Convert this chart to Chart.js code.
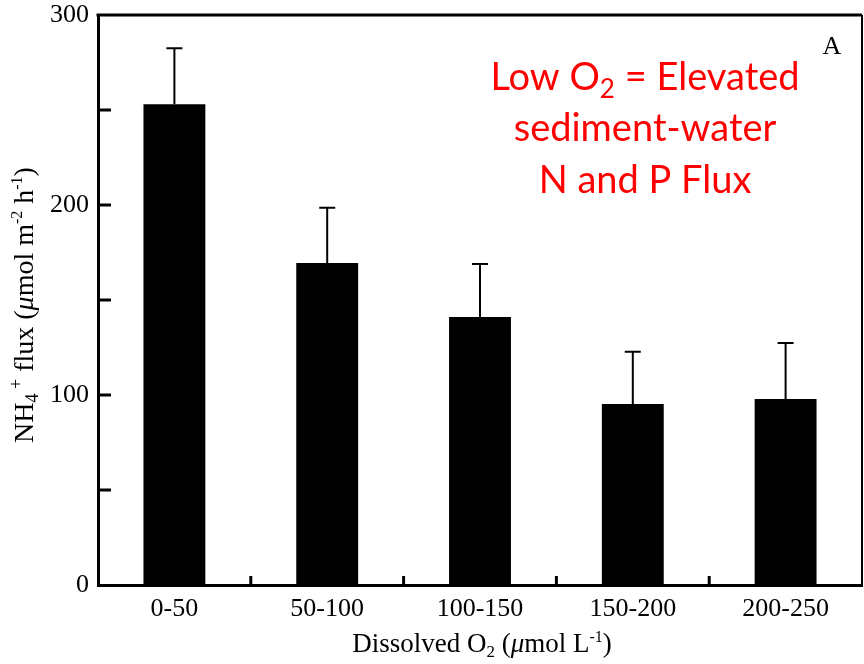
<!DOCTYPE html>
<html>
<head>
<meta charset="utf-8">
<script src="https://cdn.jsdelivr.net/npm/chart.js@4.4.0/dist/chart.umd.min.js"></script>
<style>
  html, body { margin: 0; padding: 0; background: #fff; }
  #wrap { width: 864px; height: 664px; }
</style>
</head>
<body>
<div id="wrap"><canvas id="barchart"></canvas></div>
<script>
// data
const categories = ['0-50', '50-100', '100-150', '150-200', '200-250'];
const fluxValues = [253, 169.5, 141, 95.3, 97.9];
const fluxErrors = [29.5, 29, 28, 27.5, 29.5];
const yTickLabels = [0, 100, 200, 300];
const noteLines = ['Low O', 'sediment-water', 'N and P Flux'];

const serif = "'Liberation Serif', 'DejaVu Serif', serif";

// pieces of the axis titles: text, size, shift (up is negative), italic
const xTitleRuns = [
    ['Dissolved O', 27, 0], ['2', 17, 5], [' (', 27, 0], ['\u03bc', 27, 0, true],
    ['mol L', 27, 0], ['-1', 16, -10], [')', 27, 0]
];
const yTitleRuns = [
    ['NH', 28, 0], ['4', 18, 5], [' +', 18, -11], [' flux (', 28, 0], ['\u03bc', 28, 0, true],
    ['mol m', 28, 0], ['-2', 16, -11], [' h', 28, 0], ['-1', 16, -11], [')', 28, 0]
];

function runFont(r) {
    return (r[3] ? 'italic ' : '') + r[1] + 'px ' + serif;
}

function drawRuns(ctx, runs, cx, cy) {
    let total = 0;
    runs.forEach((r) => { ctx.font = runFont(r); total += ctx.measureText(r[0]).width; });
    let pos = cx - total / 2;
    ctx.textAlign = 'left';
    ctx.textBaseline = 'alphabetic';
    runs.forEach((r) => {
        ctx.font = runFont(r);
        ctx.fillText(r[0], pos, cy + r[2]);
        pos += ctx.measureText(r[0]).width;
    });
}

// error bars, inner tick marks, frame, titles and the red note
const extras = {
    id: 'extras',
    afterDatasetsDraw(chart) {
        const ctx = chart.ctx;
        const x = chart.scales.x;
        const y = chart.scales.y;
        const area = chart.chartArea;
        ctx.save();

        // error bars (upper only)
        ctx.strokeStyle = '#000';
        ctx.lineWidth = 2;
        fluxValues.forEach((v, i) => {
            const px = x.getPixelForValue(i);
            const top = y.getPixelForValue(v + fluxErrors[i]);
            const base = y.getPixelForValue(v);
            ctx.beginPath();
            ctx.moveTo(px, base);
            ctx.lineTo(px, top);
            ctx.moveTo(px - 8, top);
            ctx.lineTo(px + 8, top);
            ctx.stroke();
        });

        // y tick marks pointing inward
        ctx.lineWidth = 3;
        y.ticks.forEach((t) => {
            if (t.value == 0 || t.value == 300) return;
            const py = y.getPixelForValue(t.value);
            ctx.beginPath();
            ctx.moveTo(area.left, py);
            ctx.lineTo(area.left + 13, py);
            ctx.stroke();
        });

        // x tick marks between categories
        for (let i = 0; i < categories.length - 1; i++) {
            const px = (x.getPixelForValue(i) + x.getPixelForValue(i + 1)) / 2;
            ctx.beginPath();
            ctx.moveTo(px, area.bottom);
            ctx.lineTo(px, area.bottom - 9);
            ctx.stroke();
        }

        // top and right border
        ctx.beginPath();
        ctx.moveTo(area.left - 1.5, area.top);
        ctx.lineTo(area.right, area.top);
        ctx.stroke();
        ctx.lineWidth = 2;
        ctx.beginPath();
        ctx.moveTo(area.right, area.top);
        ctx.lineTo(area.right, area.bottom);
        ctx.stroke();

        // axis titles
        ctx.fillStyle = '#000';
        drawRuns(ctx, xTitleRuns, 482, 652);
        ctx.save();
        ctx.translate(33, 305);
        ctx.rotate(-Math.PI / 2);
        drawRuns(ctx, yTitleRuns, 0, 0);
        ctx.restore();

        // panel letter
        ctx.font = '26px ' + serif;
        ctx.textAlign = 'center';
        ctx.textBaseline = 'middle';
        ctx.fillText('A', 832, 47);

        // red note
        ctx.fillStyle = '#ff0000';
        const big = '38px Lato, "Open Sans", sans-serif';
        const small = '26px Lato, "Open Sans", sans-serif';
        ctx.font = big;
        ctx.textBaseline = 'alphabetic';
        const cx = 645;
        const b = ' = Elevated';
        const wa = ctx.measureText(noteLines[0]).width;
        const wb = ctx.measureText(b).width;
        ctx.font = small;
        const ws = ctx.measureText('2').width;
        const start = cx - (wa + ws + wb) / 2;
        ctx.font = big;
        ctx.textAlign = 'left';
        ctx.fillText(noteLines[0], start, 90);
        ctx.fillText(b, start + wa + ws, 90);
        ctx.font = small;
        ctx.fillText('2', start + wa, 98);
        ctx.font = big;
        ctx.textAlign = 'center';
        ctx.fillText(noteLines[1], cx, 141);
        ctx.fillText(noteLines[2], cx, 193);

        ctx.restore();
    }
};

new Chart(document.getElementById('barchart'), {
    type: 'bar',
    data: {
        labels: categories,
        datasets: [{
            data: fluxValues,
            backgroundColor: '#000',
            borderWidth: 0,
            barPercentage: 0.405,
            categoryPercentage: 1
        }]
    },
    options: {
        responsive: true,
        maintainAspectRatio: false,
        animation: false,
        layout: { padding: { top: 15, right: 2, bottom: 0, left: 0 } },
        plugins: {
            legend: { display: false },
            tooltip: { enabled: false }
        },
        scales: {
            x: {
                grid: { display: false, drawTicks: false },
                border: { display: true, color: '#000', width: 3 },
                ticks: { color: '#000', font: { family: serif, size: 26 }, padding: 9, maxRotation: 0 },
                afterFit: (scale) => { scale.height = 79; scale.paddingLeft = 0; scale.paddingRight = 0; }
            },
            y: {
                min: 0,
                max: 300,
                grid: { display: false, drawTicks: false },
                border: { display: true, color: '#000', width: 3 },
                ticks: {
                    stepSize: 50,
                    color: '#000',
                    font: { family: serif, size: 26 },
                    padding: 9,
                    callback: (v) => yTickLabels.includes(v) ? String(v) : ''
                },
                afterFit: (scale) => { scale.width = 98; scale.paddingTop = 0; scale.paddingBottom = 0; }
            }
        }
    },
    plugins: [extras]
});
</script>
</body>
</html>
